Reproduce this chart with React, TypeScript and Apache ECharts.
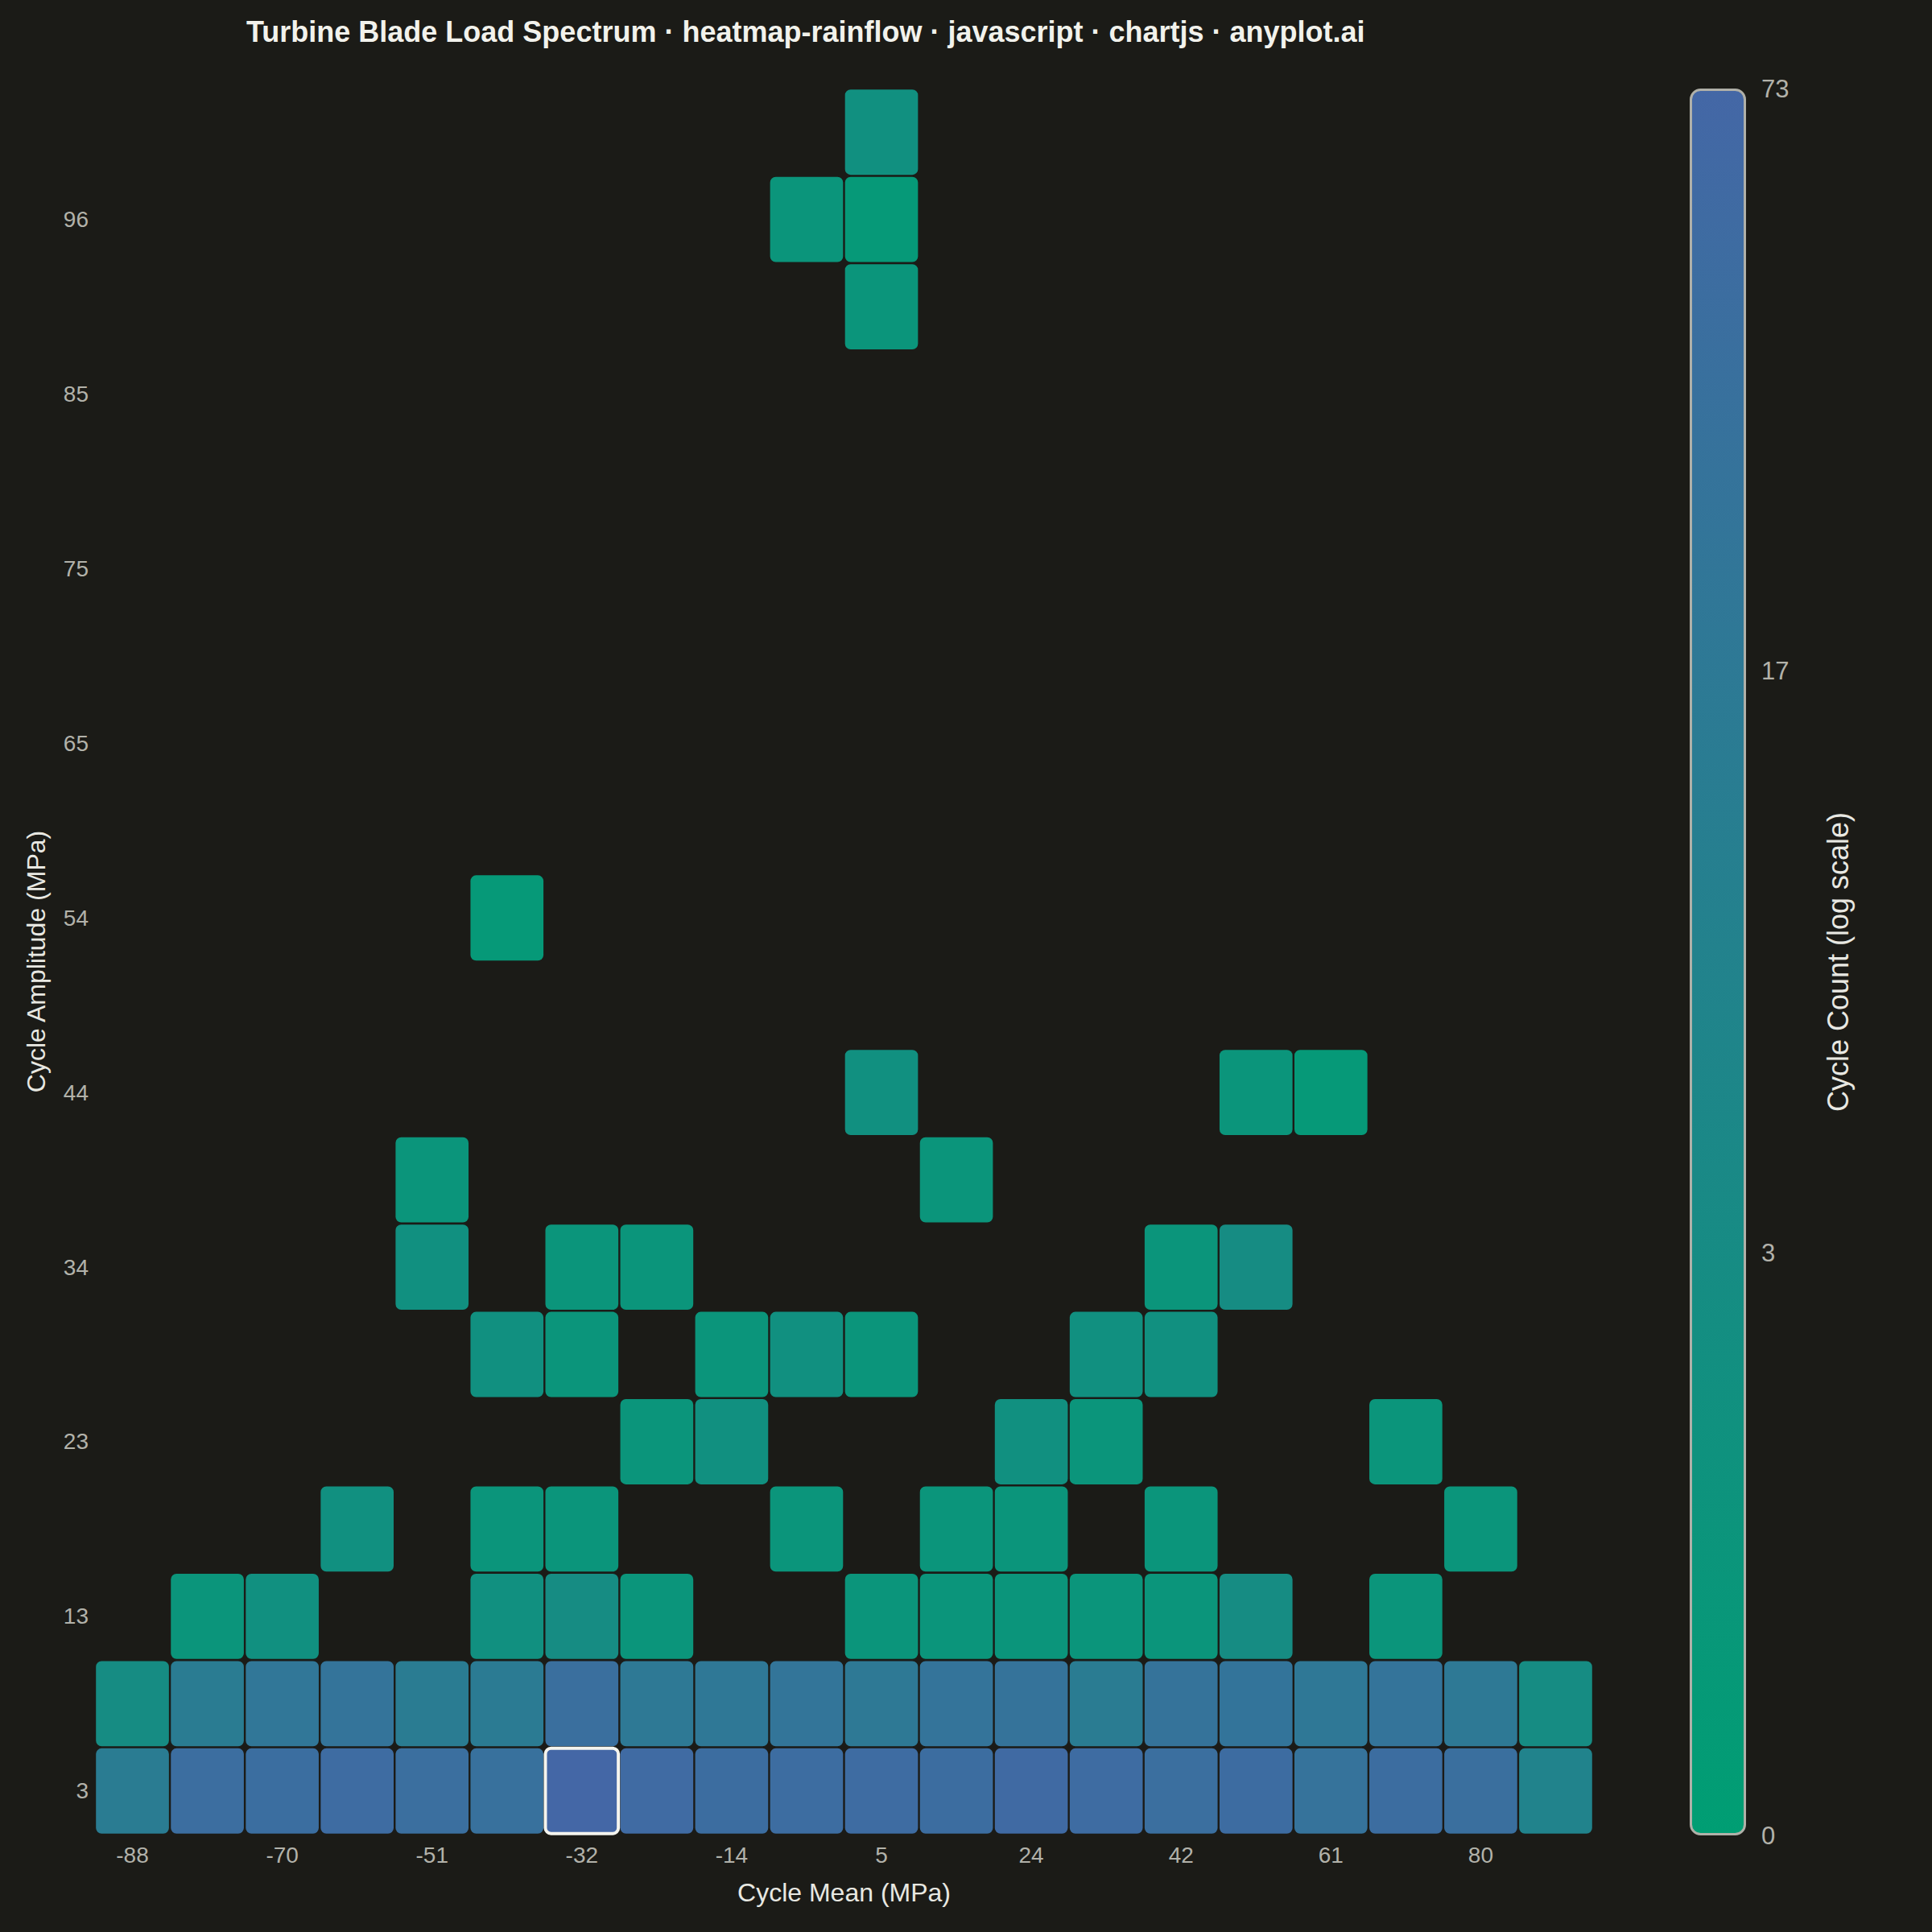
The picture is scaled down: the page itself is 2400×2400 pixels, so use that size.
import React, { useEffect, useRef } from "react";
import * as echarts from "echarts";

const TITLE = "Turbine Blade Load Spectrum · heatmap-rainflow · javascript · chartjs · anyplot.ai";

// Cycle mean bin centres (MPa), left to right
const meanLabels = ["-88", "-79", "-70", "-60", "-51", "-42", "-32", "-23", "-14", "-4", "5", "14", "24", "33", "42", "52", "61", "70", "80", "89"];

// Cycle amplitude bin centres (MPa), bottom to top
const amplitudeLabels = ["3", "8", "13", "18", "23", "28", "34", "39", "44", "49", "54", "59", "65", "70", "75", "80", "85", "90", "96", "101"];

// Rainflow cycle counts: one row per amplitude bin (bottom first), one column per mean bin
const countsAmp03 = [13, 43, 42, 50, 40, 33, 73, 55, 45, 47, 50, 45, 58, 50, 40, 48, 29, 45, 38, 7];
const countsAmp08 = [3, 13, 21, 26, 13, 14, 38, 17, 19, 24, 17, 26, 27, 13, 27, 25, 18, 26, 17, 3];
const countsAmp13 = [0, 1, 2, 0, 0, 2, 3, 1, 0, 0, 1, 1, 1, 1, 1, 3, 0, 1, 0, 0];
const countsAmp18 = [0, 0, 0, 2, 0, 1, 1, 0, 0, 1, 0, 1, 1, 0, 1, 0, 0, 0, 1, 0];
const countsAmp23 = [0, 0, 0, 0, 0, 0, 0, 1, 2, 0, 0, 0, 2, 1, 0, 0, 0, 1, 0, 0];
const countsAmp28 = [0, 0, 0, 0, 0, 2, 1, 0, 1, 2, 1, 0, 0, 2, 2, 0, 0, 0, 0, 0];
const countsAmp34 = [0, 0, 0, 0, 2, 0, 1, 1, 0, 0, 0, 0, 0, 0, 1, 3, 0, 0, 0, 0];
const countsAmp39 = [0, 0, 0, 0, 1, 0, 0, 0, 0, 0, 0, 1, 0, 0, 0, 0, 0, 0, 0, 0];
const countsAmp44 = [0, 0, 0, 0, 0, 0, 0, 0, 0, 0, 2, 0, 0, 0, 0, 1, 0.5, 0, 0, 0];
const countsAmp49 = [0, 0, 0, 0, 0, 0, 0, 0, 0, 0, 0, 0, 0, 0, 0, 0, 0, 0, 0, 0];
const countsAmp54 = [0, 0, 0, 0, 0, 0.5, 0, 0, 0, 0, 0, 0, 0, 0, 0, 0, 0, 0, 0, 0];
const countsAmp59 = [0, 0, 0, 0, 0, 0, 0, 0, 0, 0, 0, 0, 0, 0, 0, 0, 0, 0, 0, 0];
const countsAmp65 = [0, 0, 0, 0, 0, 0, 0, 0, 0, 0, 0, 0, 0, 0, 0, 0, 0, 0, 0, 0];
const countsAmp70 = [0, 0, 0, 0, 0, 0, 0, 0, 0, 0, 0, 0, 0, 0, 0, 0, 0, 0, 0, 0];
const countsAmp75 = [0, 0, 0, 0, 0, 0, 0, 0, 0, 0, 0, 0, 0, 0, 0, 0, 0, 0, 0, 0];
const countsAmp80 = [0, 0, 0, 0, 0, 0, 0, 0, 0, 0, 0, 0, 0, 0, 0, 0, 0, 0, 0, 0];
const countsAmp85 = [0, 0, 0, 0, 0, 0, 0, 0, 0, 0, 0, 0, 0, 0, 0, 0, 0, 0, 0, 0];
const countsAmp90 = [0, 0, 0, 0, 0, 0, 0, 0, 0, 0, 1, 0, 0, 0, 0, 0, 0, 0, 0, 0];
const countsAmp96 = [0, 0, 0, 0, 0, 0, 0, 0, 0, 1, 0.5, 0, 0, 0, 0, 0, 0, 0, 0, 0];
const countsAmp101 = [0, 0, 0, 0, 0, 0, 0, 0, 0, 0, 2, 0, 0, 0, 0, 0, 0, 0, 0, 0];

const cycleCounts = [
  countsAmp03, countsAmp08, countsAmp13, countsAmp18, countsAmp23,
  countsAmp28, countsAmp34, countsAmp39, countsAmp44, countsAmp49,
  countsAmp54, countsAmp59, countsAmp65, countsAmp70, countsAmp75,
  countsAmp80, countsAmp85, countsAmp90, countsAmp96, countsAmp101,
];

const FONT = "'Liberation Sans', Arial, Helvetica, sans-serif";
const BG = "#1b1b17";
const LOW = "#009E73";
const HIGH = "#4467A6";

export default function App() {
  const ref = useRef<HTMLDivElement>(null);

  useEffect(() => {
    document.body.style.margin = "0";
    document.body.style.background = BG;
    const chart = echarts.init(ref.current as HTMLDivElement, null, { renderer: "svg" });

    const maxCount = Math.max(...cycleCounts.flat());
    const logMax = Math.log1p(maxCount);
    const scaled = (v: number) => (3 * Math.log1p(v)) / logMax;

    const data: number[][] = [];
    cycleCounts.forEach((row, r) =>
      row.forEach((v, c) => {
        data.push([c, r, v, v > 0 ? scaled(v) : 0]);
      })
    );

    const renderItem = (params: any, api: any) => {
      const c = api.coord([api.value(0), api.value(1)]);
      const s = api.size([1, 1]);
      const count = api.value(2);
      const gx = 1.2;
      const gy = 1.3;
      const shape = {
        x: c[0] - s[0] / 2 + gx,
        y: c[1] - s[1] / 2 + gy,
        width: s[0] - 2 * gx,
        height: s[1] - 2 * gy,
        r: 7,
      };
      if (!count) {
        return { type: "rect", shape, style: { fill: "rgba(255,255,255,0.004)" } };
      }
      const isMax = count === maxCount;
      return {
        type: "rect",
        z2: isMax ? 10 : 1,
        shape,
        style: {
          fill: api.visual("color"),
          stroke: isMax ? "#f4f4ee" : null,
          lineWidth: isMax ? 4 : 0,
        },
      };
    };

    const tickColor = "#b2b2aa";
    const nameColor = "#e8e8e2";

    chart.setOption({
      animation: false,
      backgroundColor: BG,
      textStyle: { fontFamily: FONT },
      title: {
        text: TITLE,
        left: 306,
        top: 21,
        padding: 0,
        textStyle: { color: "#f2f2ec", fontSize: 36, fontWeight: "bold", fontFamily: FONT },
      },
      grid: [
        { left: 118, top: 110, width: 1861, height: 2169 },
        { left: 2099, top: 110, width: 70, height: 2170 },
      ],
      xAxis: [
        {
          type: "category",
          gridIndex: 0,
          data: meanLabels,
          axisLine: { show: false },
          axisTick: { show: false },
          splitLine: { show: false },
          axisLabel: { interval: 1, color: tickColor, fontSize: 28, margin: 11, fontFamily: FONT },
          name: "Cycle Mean (MPa)",
          nameLocation: "middle",
          nameGap: 56,
          nameTextStyle: { color: nameColor, fontSize: 32, fontFamily: FONT },
        },
        { type: "category", gridIndex: 1, data: ["count"], show: false },
      ],
      yAxis: [
        {
          type: "category",
          gridIndex: 0,
          data: amplitudeLabels,
          axisLine: { show: false },
          axisTick: { show: false },
          splitLine: { show: false },
          axisLabel: { interval: 1, color: tickColor, fontSize: 28, margin: 8, fontFamily: FONT },
          name: "Cycle Amplitude (MPa)",
          nameLocation: "middle",
          nameRotate: 90,
          nameGap: 57,
          nameTextStyle: { color: nameColor, fontSize: 32, fontFamily: FONT },
        },
        {
          type: "value",
          gridIndex: 1,
          position: "right",
          min: 0,
          max: 3,
          interval: 1,
          axisLine: { show: false },
          axisTick: { show: false },
          splitLine: { show: false },
          axisLabel: {
            color: tickColor,
            fontSize: 31,
            margin: 19,
            fontFamily: FONT,
            formatter: (v: number) => String(Math.round(Math.expm1((v * logMax) / 3))),
          },
          name: "Cycle Count (log scale)",
          nameLocation: "middle",
          nameRotate: 90,
          nameGap: 96,
          nameTextStyle: { color: nameColor, fontSize: 36, fontFamily: FONT },
        },
      ],
      visualMap: {
        show: false,
        type: "continuous",
        min: 0,
        max: 3,
        dimension: 3,
        seriesIndex: 0,
        inRange: { color: [LOW, HIGH] },
      },
      series: [
        {
          type: "custom",
          xAxisIndex: 0,
          yAxisIndex: 0,
          data,
          encode: { x: 0, y: 1 },
          renderItem,
        },
        {
          type: "bar",
          xAxisIndex: 1,
          yAxisIndex: 1,
          data: [3],
          barWidth: "100%",
          itemStyle: {
            color: new echarts.graphic.LinearGradient(0, 1, 0, 0, [
              { offset: 0, color: LOW },
              { offset: 1, color: HIGH },
            ]),
            borderColor: "#b0b0a8",
            borderWidth: 3,
            borderRadius: 12,
          },
        },
      ],
    });

    return () => chart.dispose();
  }, []);

  return <div ref={ref} style={{ width: 2400, height: 2400 }} />;
}
